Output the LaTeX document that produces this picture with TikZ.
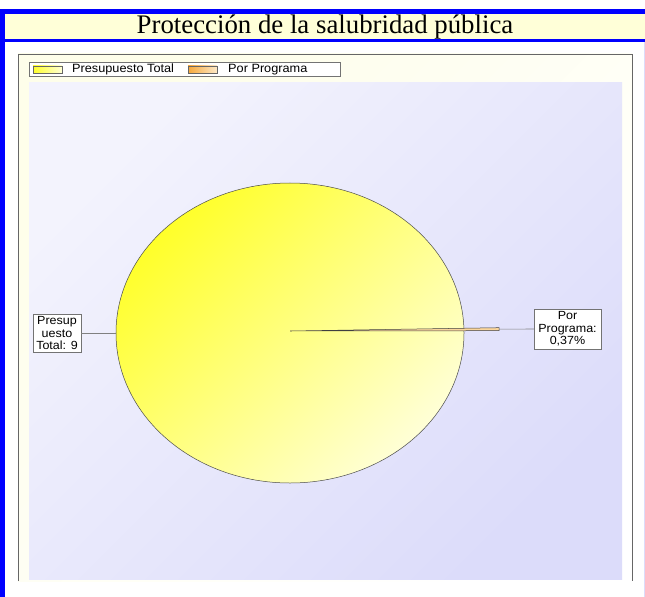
\documentclass[tikz,border=0pt]{standalone}
\usepackage{fontspec}
\setmainfont{Liberation Serif}
\setsansfont{Liberation Sans}
\newfontfamily\chartfont{Liberation Sans}[FakeStretch=1.06]
\usetikzlibrary{shapes.geometric}
\definecolor{bandblue}{HTML}{0000FF}
\definecolor{titlefill}{HTML}{FFFFD8}
\definecolor{ivory}{HTML}{FEFEEA}
\definecolor{lavA}{HTML}{F3F3FD}
\definecolor{lavB}{HTML}{DCDCFA}
\definecolor{pieA}{HTML}{FFFF2A}
\definecolor{pieB}{HTML}{FFFFD6}
\definecolor{sliceA}{HTML}{F7A83A}
\definecolor{sliceB}{HTML}{FDE9C8}
\tikzset{
  lbl/.style={draw=black!55, fill=white, align=center, inner xsep=1.5bp, inner ysep=2.5bp,
    font=\chartfont\fontsize{11.8bp}{12.6bp}\selectfont},
  legtxt/.style={anchor=west, inner sep=0pt, font=\chartfont\fontsize{12bp}{13bp}\selectfont},
  leader/.style={draw=black!50, line width=0.6bp}
}
\begin{document}
\begin{tikzpicture}[x=1bp,y=-1bp]
\useasboundingbox (0,0) rectangle (645,597);
\fill[white] (0,0) rectangle (645,597);
% frame bands
\fill[bandblue] (0,9) rectangle (645,14);
\fill[bandblue] (0,9) rectangle (5,597);
\fill[titlefill] (5,14) rectangle (645,39);
\fill[bandblue] (5,39) rectangle (645,42);
\draw[color=lavB, line width=1bp] (644.5,42) -- (644.5,597);
\node[font=\fontsize{26.8bp}{28bp}\selectfont, inner sep=0pt] (title) at (325,27) {Protección de la salubridad pública};
% chart frame
\shade[top color=white, bottom color=ivory, shading angle=-135] (18,54) rectangle (632,581);
\draw[black!60, line width=0.8bp] (18,581) -- (18,54) -- (632,54) -- (632,581);
% plot area
\shade[top color=lavA, bottom color=lavB, shading angle=45] (29,83) rectangle (622,579);
% legend
\draw[black!55, fill=white, line width=0.7bp] (29,62.5) rectangle (340,76);
\shade[left color=pieA, right color=pieB, draw=black!60] (33,66) rectangle (62,73);
\node[legtxt] (lg1) at (72,69.5) {Presupuesto Total};
\shade[left color=sliceA, right color=sliceB, draw=black!60] (188,66) rectangle (217,73);
\node[legtxt] (lg2) at (228,69.5) {Por Programa};
% pie
\node[ellipse, draw=black!70, line width=0.5bp, minimum width=348bp, minimum height=300bp,
      top color=pieA, bottom color=pieB, shading angle=45] (pie) at (290,333) {};
\coordinate (ctr) at (290,331);
\coordinate (tip) at (499,329.2);
\filldraw[fill=sliceB!70!sliceA, draw=black!75, line width=0.5bp]
  (ctr) -- (499,327.7) -- (499,330.7) -- cycle;
% labels
\node[lbl, minimum width=48bp] (llabel) at (57,333) {Presup\\uesto\\Total: 9};
\node[lbl, minimum width=67bp] (rlabel) at (567.5,329) {Por\\Programa:\\0,37\%};
\draw[leader] (llabel.east) -- (pie.west);
\draw[leader] (tip) -- (rlabel.west);
\end{tikzpicture}
\end{document}
